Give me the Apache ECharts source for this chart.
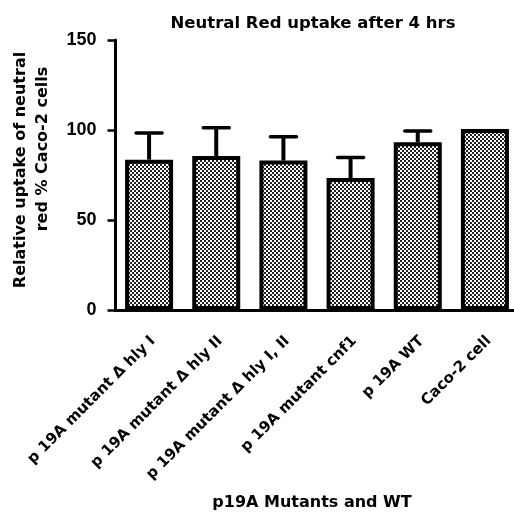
<!DOCTYPE html>
<html><head><meta charset="utf-8">
<script src="https://cdn.jsdelivr.net/npm/echarts@6/dist/echarts.min.js"></script>
<style>html,body{margin:0;padding:0;background:#fff}#c{width:514px;height:513px}</style>
</head><body><div id="c"></div>
<script>
const categories = ['p 19A mutant Δ hly I','p 19A mutant Δ hly II','p 19A mutant Δ hly I, II','p 19A mutant cnf1','p 19A WT','Caco-2 cell'];
const means = [83.5, 85.5, 83, 73.3, 93.2, 100.5];
const errTops = [98.3, 101.3, 96.3, 84.7, 99.5, null];
const yTicks = [0, 50, 100, 150];
const yNameLines = ['Relative uptake of neutral', 'red % Caco-2 cells'];

const pc = document.createElement('canvas');
pc.width = 4; pc.height = 4;
const g = pc.getContext('2d');
g.fillStyle = '#fff'; g.fillRect(0,0,4,4);
g.fillStyle = '#222';
g.fillRect(0,0,2,2); g.fillRect(2,2,2,2);

const FA = 'Liberation Sans, Arial, sans-serif';
const FD = 'DejaVu Sans, sans-serif';
const chart = echarts.init(document.getElementById('c'));
chart.setOption({
  animation: false,
  title: { text: 'Neutral Red uptake after 4 hrs', left: 308, top: 10, textAlign: 'center',
    textStyle: { fontFamily: FD, fontWeight: 'bold', fontSize: 16.5, color: '#000' } },
  grid: { left: 115.5, right: -4.5, top: 40, bottom: 203, containLabel: false, outerBoundsMode: 'none' },
  xAxis: {
    type: 'category', data: categories,
    name: 'p19A Mutants and WT', nameLocation: 'middle', nameGap: 185,
    nameTextStyle: { fontFamily: FD, fontWeight: 'bold', fontSize: 16, color: '#000', padding: [0, 10, 0, 0] },
    axisLine: { lineStyle: { color: '#000', width: 3 } },
    axisTick: { alignWithLabel: true, length: 7, lineStyle: { color: '#000', width: 2.5 } },
    axisLabel: { rotate: 45, fontFamily: FD, fontWeight: 'bold', fontSize: 15, color: '#000',
      margin: 22, interval: 0, verticalAlign: 'top', padding: [0, 2, 0, 0] }
  },
  yAxis: {
    type: 'value', min: 0, max: 150, interval: 50,
    axisLine: { show: true, lineStyle: { color: '#000', width: 3 } },
    axisTick: { show: true, length: 8, lineStyle: { color: '#000', width: 2.5 } },
    axisLabel: { fontFamily: FA, fontWeight: 'bold', fontSize: 18, color: '#000', margin: 19,
      formatter: v => yTicks.includes(v) ? String(v) : '' },
    splitLine: { show: false }
  },
  graphic: [
    { type: 'text', x: 21, y: 170, rotation: Math.PI / 2,
      style: { text: yNameLines[0], font: 'bold 16px DejaVu Sans', fill: '#000', align: 'center', verticalAlign: 'middle' } },
    { type: 'text', x: 43, y: 149, rotation: Math.PI / 2,
      style: { text: yNameLines[1], font: 'bold 16px DejaVu Sans', fill: '#000', align: 'center', verticalAlign: 'middle' } }
  ],
  series: [
    { type: 'bar', data: means, barWidth: 48,
      itemStyle: { color: { image: pc, repeat: 'repeat' }, borderColor: '#000', borderWidth: 4 } },
    { type: 'custom', data: means.map((m, i) => [i, m, errTops[i]]), z: 1,
      renderItem: function (params, api) {
        const top = api.value(2);
        if (top === null || isNaN(top)) return null;
        const p0 = api.coord([api.value(0), api.value(1)]);
        const p1 = api.coord([api.value(0), top]);
        const hw = 13;
        return { type: 'group', children: [
          { type: 'line', shape: { x1: p0[0], y1: p0[1], x2: p1[0], y2: p1[1] }, style: { stroke: '#000', lineWidth: 4 } },
          { type: 'line', shape: { x1: p1[0]-hw, y1: p1[1], x2: p1[0]+hw, y2: p1[1] }, style: { stroke: '#000', lineWidth: 3.5, lineCap: 'round' } }
        ]};
      }
    }
  ]
});
</script></body></html>
